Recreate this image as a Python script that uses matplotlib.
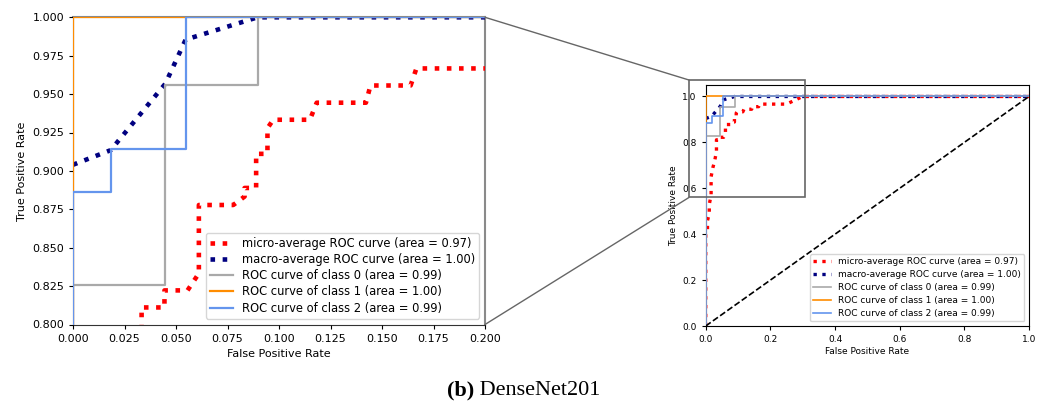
import matplotlib
matplotlib.use("Agg")
import matplotlib.pyplot as plt
from matplotlib.patches import Rectangle, ConnectionPatch

# ---------------- data ----------------
micro_fpr = [0.0, 0.0, 0.0056, 0.0056, 0.0111, 0.0111, 0.0167, 0.0167, 0.0222,
             0.0278, 0.0333, 0.0333, 0.0444, 0.0444, 0.0556, 0.0611, 0.0611,
             0.0778, 0.0833, 0.0833, 0.0889, 0.0889, 0.0944, 0.0944, 0.0972,
             0.1150, 0.1183, 0.1422, 0.1444, 0.1639, 0.1667, 0.2500, 0.2667,
             0.2833, 0.3000, 1.0]
micro_tpr = [0.0, 0.40, 0.42, 0.46, 0.49, 0.53, 0.57, 0.65, 0.69,
             0.72, 0.76, 0.8111, 0.8111, 0.8222, 0.8222, 0.8333, 0.8778,
             0.8778, 0.8833, 0.8889, 0.8889, 0.9111, 0.9111, 0.9278, 0.9333,
             0.9333, 0.9444, 0.9444, 0.9556, 0.9556, 0.9667, 0.9667, 0.9778,
             0.9889, 1.0, 1.0]

macro_fpr = [0.0, 0.0183, 0.0448, 0.0547, 0.0896, 1.0]
macro_tpr = [0.904, 0.9135, 0.9567, 0.9855, 1.0, 1.0]

class0_fpr = [0.0, 0.0, 0.0448, 0.0448, 0.0896, 0.0896, 1.0]
class0_tpr = [0.0, 0.826, 0.826, 0.956, 0.956, 1.0, 1.0]

class1_fpr = [0.0, 0.0, 1.0]
class1_tpr = [0.0, 1.0, 1.0]

class2_fpr = [0.0, 0.0, 0.0183, 0.0183, 0.0547, 0.0547, 1.0]
class2_tpr = [0.0, 0.886, 0.886, 0.914, 0.914, 1.0, 1.0]

labels = ["micro-average ROC curve (area = 0.97)",
          "macro-average ROC curve (area = 1.00)",
          "ROC curve of class 0 (area = 0.99)",
          "ROC curve of class 1 (area = 1.00)",
          "ROC curve of class 2 (area = 0.99)"]

left_xticks = [0.0, 0.025, 0.05, 0.075, 0.1, 0.125, 0.15, 0.175, 0.2]
left_yticks = [0.8, 0.825, 0.85, 0.875, 0.9, 0.925, 0.95, 0.975, 1.0]
right_ticks = [0.0, 0.2, 0.4, 0.6, 0.8, 1.0]

# ---------------- figure ----------------
W, H = 1049, 401
fig = plt.figure(figsize=(W / 100, H / 100), dpi=100)
plt.rcParams['font.family'] = ['DejaVu Sans']

axL = fig.add_axes([73 / W, 1 - 324.5 / H, 412 / W, 307.2 / H])
axR = fig.add_axes([705.7 / W, 1 - 326 / H, 323.3 / W, 241 / H])


def draw(ax, lw_dot, lw_line, fs, lfs, lsp, diag):
    ax.plot(micro_fpr, micro_tpr, color='red', linestyle=':', lw=lw_dot, label=labels[0])
    ax.plot(macro_fpr, macro_tpr, color='navy', linestyle=':', lw=lw_dot, label=labels[1])
    ax.plot(class0_fpr, class0_tpr, color='darkgray', lw=lw_line, label=labels[2])
    ax.plot(class1_fpr, class1_tpr, color='darkorange', lw=lw_line, label=labels[3])
    ax.plot(class2_fpr, class2_tpr, color='cornflowerblue', lw=lw_line, label=labels[4])
    if diag:
        ax.plot([0, 1], [0, 1], 'k--', lw=lw_line)
    ax.set_xlabel('False Positive Rate', fontsize=fs)
    ax.set_ylabel('True Positive Rate', fontsize=fs)
    ax.tick_params(labelsize=fs, length=3, width=0.8)
    leg = ax.legend(loc='lower right', fontsize=lfs, framealpha=0.8,
                    labelspacing=lsp, borderpad=0.35)
    leg.set_zorder(6)
    for s in ax.spines.values():
        s.set_zorder(1.5)


draw(axL, 3.3, 1.6, 8, 8.3, 0.28, False)
axL.set_xlim(0.0, 0.2)
axL.set_ylim(0.8, 1.0)
axL.set_xticks(left_xticks)
axL.set_yticks(left_yticks)
axL.xaxis.set_major_formatter(matplotlib.ticker.FormatStrFormatter('%.3f'))
axL.yaxis.set_major_formatter(matplotlib.ticker.FormatStrFormatter('%.3f'))
for s in ['top', 'right']:
    axL.spines[s].set_color('#8a8a8a')
    axL.spines[s].set_linewidth(1.5)
for s in ['left', 'bottom']:
    axL.spines[s].set_color('#333333')

draw(axR, 2.4, 1.2, 6.5, 6.5, 0.45, True)
axR.set_xlim(0.0, 1.0)
axR.set_ylim(0.0, 1.05)
axR.set_xticks(right_ticks)
axR.set_yticks(right_ticks)
axR.xaxis.labelpad = 2
axR.yaxis.labelpad = 3

# zoom indicator rectangle
rx0, rx1, ry0, ry1 = -0.0517, 0.3074, 0.560, 1.0717
axR.add_patch(Rectangle((rx0, ry0), rx1 - rx0, ry1 - ry0, fill=False,
                        ec='#666666', lw=1.2, clip_on=False, zorder=5))
for ya, yb in [(1.0, ry1), (0.8, ry0)]:
    con = ConnectionPatch(xyA=(0.2, ya), coordsA=axL.transData,
                          xyB=(rx0, yb), coordsB=axR.transData,
                          color='#666666', lw=1.0)
    fig.add_artist(con)

# caption
fig.canvas.draw()
r = fig.canvas.get_renderer()
t1 = fig.text(0, 0, '(b)', fontsize=16, fontweight='bold', family='Liberation Serif')
t2 = fig.text(0, 0, ' DenseNet201', fontsize=16, family='Liberation Serif')
w1 = t1.get_window_extent(r).width
w2 = t2.get_window_extent(r).width
cx = 524
x0 = cx - (w1 + w2) / 2
t1.set_position((x0 / W, 1 - 395 / H))
t2.set_position(((x0 + w1) / W, 1 - 395 / H))

fig.savefig('out.png', dpi=100)
